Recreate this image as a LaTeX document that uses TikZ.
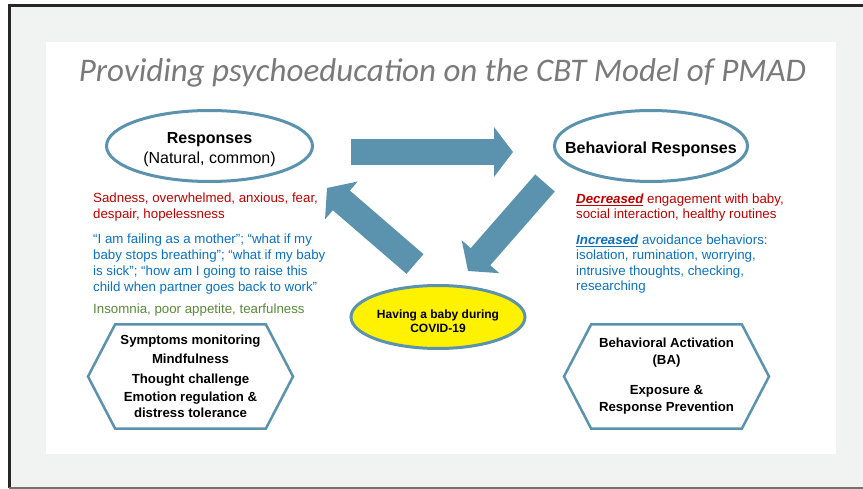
\documentclass[tikz,border=0pt]{standalone}
\usepackage{fontspec}
\setmainfont{Liberation Sans}
\newfontfamily\titlefont{Carlito}
\usepackage{tikz}
\usetikzlibrary{arrows.meta,
                positioning,
                shapes.geometric,
                shapes.symbols}
\definecolor{steel}{HTML}{5B93AE}
\definecolor{slidegrey}{HTML}{F1F3F2}
\definecolor{titlegrey}{HTML}{7A7A7A}
\definecolor{feelred}{HTML}{C00000}
\definecolor{thinkblue}{HTML}{0A72C4}
\definecolor{bodygreen}{HTML}{5B8A3A}
\tikzset{
	%Define standard arrow tip
	>={Triangle[length=19pt,width=49pt]},
	%Define style for ovals
	oval/.style={
	       ellipse,
	       draw=steel, line width=3pt,
	       fill=white,
	       inner sep=0pt,
	       align=center},
	%Define style for hexagons
	hexa/.style={
	       signal,
	       signal to=west and east,
	       signal pointer angle=125,
	       draw=steel, line width=2.5pt,
	       fill=white,
	       minimum width=205pt,
	       minimum height=104pt,
	       inner sep=0pt,
	       align=center,
	       font=\fontsize{13.2}{16}\bfseries},
	notes/.style={
	       anchor=north west,
	       inner sep=0pt,
	       align=left,
	       font=\fontsize{13.3}{16}\selectfont},
	notesr/.style={
	       notes,
	       font=\fontsize{13.3}{15.3}\selectfont},
	% Define arrow style
	pfeil/.style={
	       ->,
	       line width=26pt,
	       draw=steel}
}

\begin{document}
\begin{tikzpicture}[x=1pt, y=-1pt]
		\useasboundingbox (0,0) rectangle (863,489);
		% slide
		\fill[slidegrey] (9,5.5) rectangle (863,488);
		\draw[line width=3pt, black!85] (863,5.5) -- (9,5.5) -- (9,488);
		\draw[line width=2pt, black!55] (9,488) -- (863,488);
		\fill[white] (46,42) rectangle (836,454);
		\node[anchor=base, text=titlegrey, font=\titlefont\itshape\fontsize{33}{38}\selectfont](title) at (442.5,82){Providing psychoeducation on the CBT Model of PMAD};
		% ovals
		\node[oval, minimum width=206pt, minimum height=71pt, label={[yshift=-4pt, align=center, font=\fontsize{16}{20}\selectfont]center:\textbf{Responses}\\(Natural, common)}](resp) at (209.5,146){};
		\node[oval, minimum width=193pt, minimum height=71pt, label={[yshift=-3pt, font=\fontsize{16}{20}\bfseries]center:Behavioral Responses}](behav) at (651,146){};
		\node[oval, fill=yellow, minimum width=174pt, minimum height=63pt, label={[yshift=-4pt, align=center, font=\fontsize{12}{13.5}\bfseries]center:Having a baby during\\COVID-19}](baby) at (438,317){};
		% block arrows
		\coordinate (r0) at (351,152);
		\coordinate (r1) at (513,152);
		\coordinate (d0) at (545,183);
		\coordinate (d1) at (468,271);
		\coordinate (u0) at (415,264);
		\coordinate (u1) at (327,188);
		\draw[pfeil] (r0) -- (r1);
		\draw[pfeil] (d0) -- (d1);
		\draw[pfeil] (u0) -- (u1);
		% left notes
		\node[notes, text=feelred](sad) at (93,192.5){Sadness, overwhelmed, anxious, fear,\\despair, hopelessness};
		\node[notes, text=thinkblue, below=12pt of sad.south west, anchor=north west](thoughts){“I am failing as a mother”; “what if my\\baby stops breathing”; “what if my baby\\is sick”; “how am I going to raise this\\child when partner goes back to work”};
		\node[notes, text=bodygreen, below=9.5pt of thoughts.south west, anchor=north west](body){Insomnia, poor appetite, tearfulness};
		% right notes
		\node[notesr, text=feelred](dec) at (576,193.5){\textbf{\textit{\underline{Decreased}}} engagement with baby,\\social interaction, healthy routines};
		\node[notesr, text=thinkblue, below=13pt of dec.south west, anchor=north west](inc){\textbf{\textit{\underline{Increased}}} avoidance behaviors:\\isolation, rumination, worrying,\\intrusive thoughts, checking,\\researching};
		% hexagons
		\node[hexa](cope) at (190.5,376.5){Symptoms monitoring\\[3pt]Mindfulness\\[4pt]Thought challenge\\[2pt]Emotion regulation \&\\distress tolerance};
		\node[hexa, font=\fontsize{13.2}{17}\bfseries](act) at (666.5,376.5){Behavioral Activation\\(BA)\\[13pt]Exposure \&\\Response Prevention};
	\end{tikzpicture}
\end{document}
